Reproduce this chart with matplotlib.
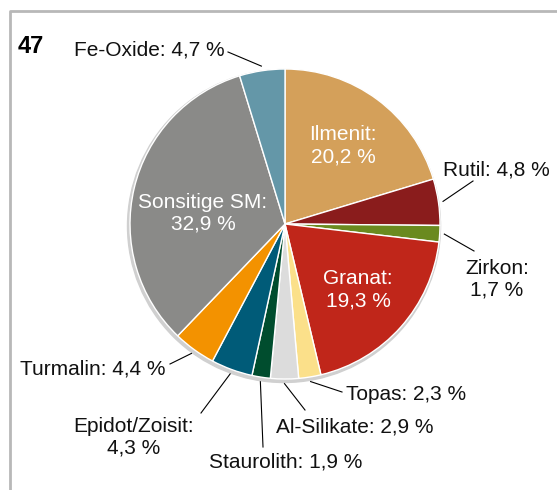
import numpy as np
import matplotlib.pyplot as plt
from matplotlib.patches import Circle

plt.rcParams['font.family'] = ['Liberation Sans', 'DejaVu Sans']

# Data (clockwise from 12 o'clock)
labels = ['Ilmenit', 'Rutil', 'Zirkon', 'Granat', 'Topas', 'Al-Silikate',
          'Staurolith', 'Epidot/Zoisit', 'Turmalin', 'Sonsitige SM', 'Fe-Oxide']
values = [20.2, 4.8, 1.7, 19.3, 2.3, 2.9, 1.9, 4.3, 4.4, 32.9, 4.7]
colors = ['#D4A05A', '#8A1C1C', '#6A8A1F', '#C0261A', '#FBE08A', '#DCDCDC',
          '#004D2E', '#005B78', '#F39200', '#8A8A88', '#6497A8']

# label layout in pixel coords (x, y from top): text pos, alignment, leader end
H = 490
inside = {'Ilmenit': (343, 146), 'Granat': (358, 290), 'Sonsitige SM': (203, 213)}
outside = {
    'Fe-Oxide':      ((225, 50), 'right', False, (228, 52)),
    'Rutil':         ((443, 170), 'left', False, (473, 181)),
    'Zirkon':        ((497, 279), 'center', True, (474, 251)),
    'Topas':         ((346, 395), 'left', False, (342, 392)),
    'Al-Silikate':   ((276, 427), 'left', False, (305, 410)),
    'Staurolith':    ((209, 462), 'left', False, (263, 447)),
    'Epidot/Zoisit': ((134, 437), 'center', True, (201, 413)),
    'Turmalin':      ((166, 369), 'right', False, (170, 364)),
}

cx, cy, r = 285, H - 224, 155
FS = 15

fig = plt.figure(figsize=(5.57, 4.90), dpi=100)
ax = fig.add_axes([0, 0, 1, 1])

# frame
ax.plot([10, 10, 557], [0, H - 11, H - 11], color='#B8B8B8', lw=2, solid_capstyle='butt')

# soft shadow
ax.add_patch(Circle((cx - 1, cy - 2), r + 1.5, color='#D0D0D0', zorder=1))

wedges, _ = ax.pie(values, colors=colors, startangle=90, counterclock=False,
                   center=(cx, cy), radius=r, frame=True,
                   wedgeprops=dict(edgecolor='white', linewidth=1.0, zorder=2))
ax.set_xlim(0, 557)
ax.set_ylim(0, H)
ax.set_aspect('equal')
ax.axis('off')

def fmt(v):
    return ('%.1f' % v).replace('.', ',') + ' %'

total = sum(values)
cum = 0
for lab, v in zip(labels, values):
    mid = (cum + v / 2) / total * 2 * np.pi
    cum += v
    if lab in inside:
        x, y = inside[lab]
        ax.text(x, H - y, lab + ':\n' + fmt(v), ha='center', va='center',
                color='white', fontsize=FS, linespacing=1.2, zorder=5)
    else:
        (x, y), ha, two, (ex, ey) = outside[lab]
        sx = cx + 1.03 * r * np.sin(mid)
        sy = cy + 1.03 * r * np.cos(mid)
        ax.plot([sx, ex], [sy, H - ey], color='black', lw=0.8, zorder=4)
        txt = lab + ':\n' + fmt(v) if two else lab + ': ' + fmt(v)
        ax.text(x, H - y, txt, ha=ha, va='center', color='#111111',
                fontsize=FS, linespacing=1.2, multialignment='center', zorder=5)

ax.text(18, H - 47, '47', fontsize=17, fontweight='bold', ha='left', va='center')

fig.savefig('out.png', dpi=100)
